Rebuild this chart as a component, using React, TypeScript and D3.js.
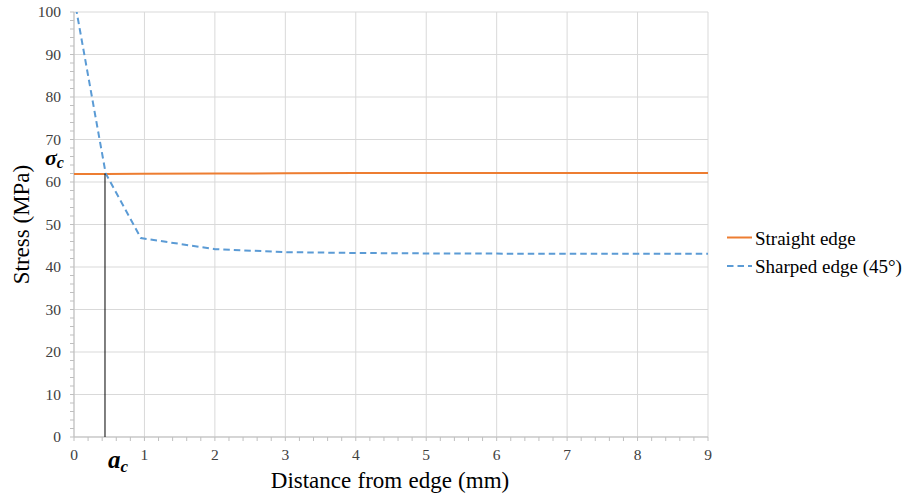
import React from "react";
import * as d3 from "d3";

const distances = [0, 0.45, 0.95, 2, 3, 4, 5, 6, 7, 8, 9];
const straightEdge = [61.9, 61.9, 61.95, 62.0, 62.05, 62.1, 62.1, 62.1, 62.1, 62.1, 62.1];
const sharpedEdge = [103.5, 62.0, 46.8, 44.2, 43.5, 43.3, 43.2, 43.15, 43.1, 43.1, 43.1];
const xTicks = [0, 1, 2, 3, 4, 5, 6, 7, 8, 9];
const yTicks = [0, 10, 20, 30, 40, 50, 60, 70, 80, 90, 100];
const seriesNames = ["Straight edge", "Sharped edge (45°)"];
const criticalDistance = 0.44;
const criticalStress = 62;

const W = 911;
const H = 500;
const left = 74;
const right = 708;
const top = 12;
const bottom = 437;

const font = "'Liberation Serif', 'Times New Roman', serif";

export default function App() {
  const x = d3.scaleLinear().domain([0, 9]).range([left, right]);
  const y = d3.scaleLinear().domain([0, 100]).range([bottom, top]);
  const line = d3
    .line<[number, number]>()
    .x((d) => x(d[0]))
    .y((d) => y(d[1]));
  const orangeData = distances.map((d, i) => [d, straightEdge[i]] as [number, number]);
  const blueData = distances.map((d, i) => [d, sharpedEdge[i]] as [number, number]);
  const xMinor = d3.range(0, 9.0001, 0.2);
  const yMinor = d3.range(0, 100.0001, 2);
  const gridColor = "#d9d9d9";
  const axisColor = "#bfbfbf";
  const orange = "#ed7d31";
  const blue = "#5b9bd5";
  const ts = { fontFamily: font };

  return (
    <svg
      width={W}
      height={H}
      style={{ position: "absolute", left: 0, top: 0, background: "#fff", fontFamily: font }}
    >
      <defs>
        <clipPath id="plotClip">
          <rect x={left} y={top} width={right - left} height={bottom - top} />
        </clipPath>
      </defs>
      {yTicks.map((t) => (
        <line key={"gy" + t} x1={left} x2={right} y1={y(t)} y2={y(t)} stroke={gridColor} strokeWidth={1} />
      ))}
      {xTicks.map((t) => (
        <line key={"gx" + t} x1={x(t)} x2={x(t)} y1={top} y2={bottom} stroke={gridColor} strokeWidth={1} />
      ))}
      <line x1={left} x2={left} y1={top} y2={bottom} stroke={axisColor} strokeWidth={1} />
      <line x1={left} x2={right} y1={bottom} y2={bottom} stroke={axisColor} strokeWidth={1} />
      {yMinor.map((t) => (
        <line key={"ym" + t} x1={left - 4} x2={left} y1={y(t)} y2={y(t)} stroke={axisColor} strokeWidth={1} />
      ))}
      {xMinor.map((t) => (
        <line key={"xm" + t} x1={x(t)} x2={x(t)} y1={bottom} y2={bottom + 4} stroke={axisColor} strokeWidth={1} />
      ))}
      {yTicks.map((t) => (
        <text key={"yl" + t} style={ts} x={61} y={y(t) + 5} textAnchor="end" fontSize={15.5} fill="#404040">
          {t}
        </text>
      ))}
      {xTicks.map((t) => (
        <text key={"xl" + t} style={ts} x={x(t)} y={459.5} textAnchor="middle" fontSize={15.5} fill="#404040">
          {t}
        </text>
      ))}
      <g clipPath="url(#plotClip)">
        <path d={line(orangeData) || ""} fill="none" stroke={orange} strokeWidth={2} />
        <path d={line(blueData) || ""} fill="none" stroke={blue} strokeWidth={2} strokeDasharray="6.5,4" />
      </g>
      <line
        x1={x(criticalDistance)}
        x2={x(criticalDistance)}
        y1={y(0)}
        y2={y(criticalStress)}
        stroke="#000"
        strokeWidth={1}
      />
      <text style={ts} x={45} y={165} fontSize={22} fontWeight="bold" fontStyle="italic" fill="#000">
        σ<tspan fontSize={16} dy={3}>c</tspan>
      </text>
      <text style={ts} x={108} y={468} fontSize={25} fontWeight="bold" fontStyle="italic" fill="#000">
        a<tspan fontSize={17} dy={4}>c</tspan>
      </text>
      <text style={ts} x={390} y={488} textAnchor="middle" fontSize={23} fill="#000" wordSpacing={0.5}>
        Distance from edge (mm)
      </text>
      <text
        style={ts}
        transform={`translate(29,${(top + bottom) / 2}) rotate(-90)`}
        textAnchor="middle"
        fontSize={23}
        fill="#000"
      >
        Stress (MPa)
      </text>
      <line x1={727} x2={752} y1={237.5} y2={237.5} stroke={orange} strokeWidth={2} />
      <text style={ts} x={755} y={245} fontSize={19} fill="#000">
        {seriesNames[0]}
      </text>
      <line x1={727} x2={752} y1={266} y2={266} stroke={blue} strokeWidth={2} strokeDasharray="6.5,4" />
      <text style={ts} x={755} y={273} fontSize={19} fill="#000">
        {seriesNames[1]}
      </text>
    </svg>
  );
}
